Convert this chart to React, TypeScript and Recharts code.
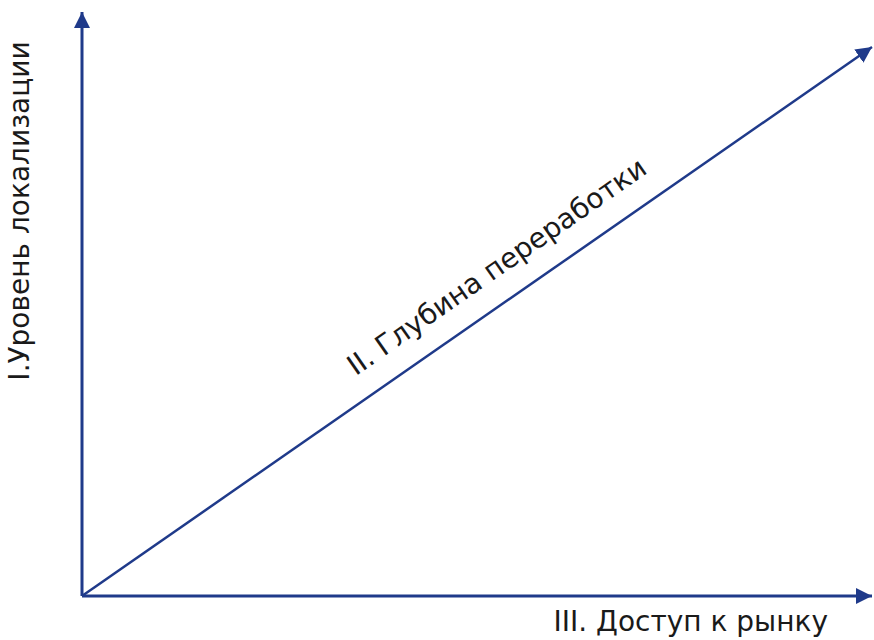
import React from "react";
import {
  ComposedChart,
  Line,
  XAxis,
  YAxis,
  ReferenceDot,
} from "recharts";

// axis titles
const xTitle = "III. Доступ к рынку";
const yTitle = "I.Уровень локализации";
const diagTitle = "II. Глубина переработки";

// diagonal "depth of processing" line
const diagX = [0, 100];
const diagY = [0, 94];
const diagData = diagX.map((x, i) => ({ x, y: diagY[i] }));

// where the diagonal caption sits (data units)
const captionPos = { x: 52.6, y: 56.2 };

const NAVY = "#1f3a8a";
const TEXT = "#1a1a1a";
const FONT = "DejaVu Sans, Verdana, sans-serif";

function ArrowDefs() {
  return (
    <svg width={0} height={0} style={{ position: "absolute" }}>
      <defs>
        <marker
          id="arrowHead"
          markerUnits="userSpaceOnUse"
          markerWidth={18}
          markerHeight={18}
          refX={16}
          refY={8}
          orient="auto-start-reverse"
        >
          <path d="M0,0 L16,8 L0,16 Z" fill={NAVY} />
        </marker>
      </defs>
    </svg>
  );
}

export default function App() {
  const angle = (-Math.atan2(551, 791) * 180) / Math.PI;

  return (
    <div style={{ position: "absolute", left: 0, top: 0, width: 874, height: 640 }}>
      <ArrowDefs />
      <ComposedChart
        width={874}
        height={640}
        data={diagData}
        margin={{ top: 12, right: 2, bottom: 43, left: 81 }}
      >
        <XAxis
          type="number"
          dataKey="x"
          domain={[0, 100]}
          tick={false}
          tickLine={false}
          height={1}
          axisLine={{ stroke: NAVY, strokeWidth: 3, markerEnd: "url(#arrowHead)" }}
          label={{
            content: ({ viewBox }: any) => (
              <text
                x={viewBox.x + viewBox.width - 44}
                y={viewBox.y + 35}
                textAnchor="end"
                fontFamily={FONT}
                fontSize={28}
                fill={TEXT}
              >
                {xTitle}
              </text>
            ),
          }}
        />
        <YAxis
          type="number"
          domain={[0, 100]}
          tick={false}
          tickLine={false}
          width={1}
          axisLine={{ stroke: NAVY, strokeWidth: 3, markerStart: "url(#arrowHead)" }}
          label={{
            content: ({ viewBox }: any) => (
              <text
                x={0}
                y={0}
                transform={`translate(${viewBox.x - 52}, 211) rotate(-90)`}
                textAnchor="middle"
                fontFamily={FONT}
                fontSize={28}
                fill={TEXT}
              >
                {yTitle}
              </text>
            ),
          }}
        />
        <Line
          dataKey="y"
          stroke={NAVY}
          strokeWidth={2.5}
          dot={false}
          activeDot={false}
          isAnimationActive={false}
          markerEnd="url(#arrowHead)"
        />
        <ReferenceDot
          x={captionPos.x}
          y={captionPos.y}
          r={0}
          fill="none"
          stroke="none"
          label={{
            content: ({ viewBox }: any) => (
              <text
                x={0}
                y={0}
                transform={`translate(${viewBox.x}, ${viewBox.y}) rotate(${angle})`}
                textAnchor="middle"
                dominantBaseline="middle"
                fontFamily={FONT}
                fontSize={28}
                fill={TEXT}
              >
                {diagTitle}
              </text>
            ),
          }}
        />
      </ComposedChart>
    </div>
  );
}
